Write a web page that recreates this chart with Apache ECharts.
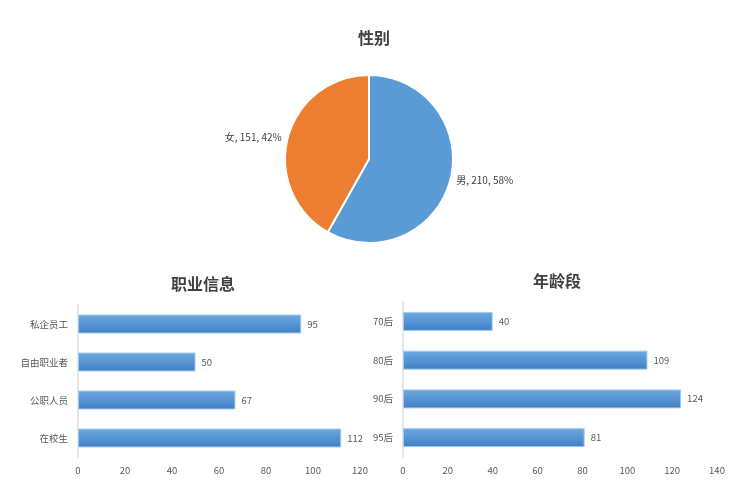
<!DOCTYPE html>
<html lang="zh">
<head>
    <meta charset="UTF-8">
    <title>统计</title>
</head>
<body style="margin:0;background:#fff">
<div id="main" style="width:750px;height:490px"></div>
<script src="https://cdn.jsdelivr.net/npm/echarts@6/dist/echarts.min.js"></script>
<script type="text/javascript">
    // 性别
    var genderNames = ['男', '女'];
    var genderValues = [210, 151];
    // 职业信息 (从下到上)
    var jobNames = ['在校生', '公职人员', '自由职业者', '私企员工'];
    var jobValues = [112, 67, 50, 95];
    // 年龄段 (从下到上)
    var ageNames = ['95后', '90后', '80后', '70后'];
    var ageValues = [81, 124, 109, 40];

    var total = genderValues.reduce(function (a, b) { return a + b; }, 0);
    var pieColors = ['#5b9bd5', '#ed7d31'];

    var barColor = new echarts.graphic.LinearGradient(0, 0, 0, 1, [
        {offset: 0, color: '#6ea8df'},
        {offset: 1, color: '#3f80c6'}
    ]);
    var txt = '#595959';
    var font = '"Noto Sans CJK SC", sans-serif';

    function catAxis(idx, names) {
        return {
            type: 'category', gridIndex: idx, data: names,
            axisLine: {show: true, lineStyle: {color: '#e3e8ef', width: 2}},
            axisTick: {show: false},
            axisLabel: {color: txt, fontSize: 9.5, fontFamily: font, margin: 10}
        };
    }
    function valAxis(idx, max) {
        return {
            type: 'value', gridIndex: idx, min: 0, max: max, interval: 20,
            axisLine: {show: false}, axisTick: {show: false},
            splitLine: {show: false},
            axisLabel: {color: txt, fontSize: 9.5, fontFamily: font, margin: 9}
        };
    }
    function barSeries(idx, values) {
        return {
            type: 'bar', xAxisIndex: idx, yAxisIndex: idx, data: values,
            barWidth: 19,
            itemStyle: {color: barColor, borderColor: '#a9cbeb', borderWidth: 1},
            label: {show: true, position: 'right', color: txt, fontSize: 9.5, fontFamily: font, distance: 6}
        };
    }

    var chart = echarts.init(document.getElementById('main'));
    var titleStyle = {color: '#404040', fontSize: 16, fontWeight: 'bold', fontFamily: font};
    chart.setOption({
        animation: false,
        title: [
            {text: '性别', left: 369, top: 25, textAlign: 'center', textStyle: titleStyle},
            {text: '职业信息', left: 198, top: 271, textAlign: 'center', textStyle: titleStyle},
            {text: '年龄段', left: 552, top: 268, textAlign: 'center', textStyle: titleStyle}
        ],
        grid: [
            {left: 78, right: 390, top: 305, bottom: 33},
            {left: 403, right: 33, top: 302, bottom: 33}
        ],
        xAxis: [valAxis(0, 120), valAxis(1, 140)],
        yAxis: [catAxis(0, jobNames), catAxis(1, ageNames)],
        series: [
            {
                type: 'pie', center: [369, 159], radius: 84,
                startAngle: 90, clockwise: true,
                data: genderNames.map(function (n, i) {
                    return {name: n, value: genderValues[i], itemStyle: {color: pieColors[i]}};
                }),
                itemStyle: {borderColor: '#fff', borderWidth: 2},
                label: {
                    show: true, position: 'outside', color: '#404040', fontSize: 10, fontFamily: font,
                    formatter: function (p) {
                        return p.name + ', ' + p.value + ', ' + Math.round(p.value / total * 100) + '%';
                    }
                },
                labelLine: {show: false, length: 1, length2: 0}
            },
            barSeries(0, jobValues),
            barSeries(1, ageValues)
        ]
    });
</script>
</body>
</html>
